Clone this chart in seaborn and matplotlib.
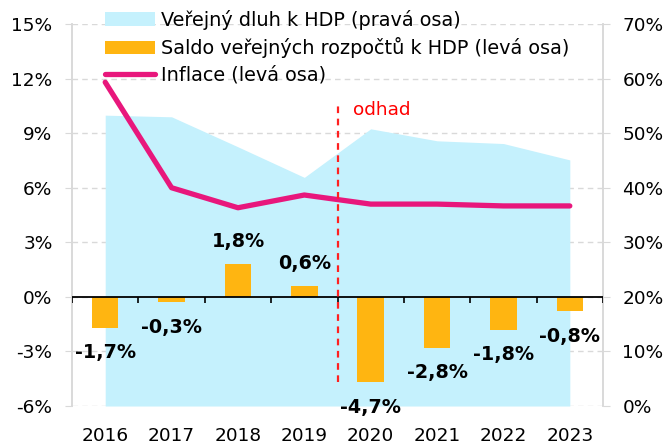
import numpy as np
import pandas as pd
import matplotlib
matplotlib.use("Agg")
import matplotlib.pyplot as plt
import seaborn as sns
from matplotlib.patches import Patch
from matplotlib.lines import Line2D

# Data
years = ["2016", "2017", "2018", "2019", "2020", "2021", "2022", "2023"]
debt = [53.3, 53.0, 47.5, 41.9, 50.8, 48.6, 48.1, 45.1]        # % HDP, right axis
balance = [-1.7, -0.3, 1.8, 0.6, -4.7, -2.8, -1.8, -0.8]        # % HDP, left axis
inflation = [11.8, 6.0, 4.9, 5.6, 5.1, 5.1, 5.0, 5.0]           # %, left axis
balance_labels = ["-1,7%", "-0,3%", "1,8%", "0,6%", "-4,7%", "-2,8%", "-1,8%", "-0,8%"]

df = pd.DataFrame({"year": years, "debt": debt, "balance": balance, "inflation": inflation})

area_color = "#C5F1FD"
bar_color = "#FFB511"
line_color = "#E8177C"
grid_color = "#D9D9D9"

sns.set_style("white")
plt.rcParams["font.family"] = ["DejaVu Sans"]
plt.rcParams["font.size"] = 13.3
plt.rcParams["text.color"] = "black"
plt.rcParams["xtick.labelcolor"] = "black"
plt.rcParams["ytick.labelcolor"] = "black"

fig = plt.figure(figsize=(6.7, 4.45), dpi=100)
ax = fig.add_axes([0.1075, 0.0876, 0.7925, 0.8584])
ax2 = ax.twinx()
ax.set_zorder(2)
ax2.set_zorder(1)
ax.patch.set_visible(False)

# Debt area on the right axis (behind everything)
pos = np.arange(len(years))
ax2.fill_between(pos, df["debt"], 0, color=area_color, lw=0, zorder=1)
ax2.set_ylim(0, 70)
ax2.set_yticks(range(0, 71, 10))
ax2.set_yticklabels([f"{v}%" for v in range(0, 71, 10)])
ax2.set_axisbelow(True)
ax2.grid(axis="y", color=grid_color, ls=(0, (4, 3)), lw=1)
ax2.grid(axis="x", visible=False)

# Budget balance bars and inflation line on the left axis
sns.barplot(data=df, x="year", y="balance", ax=ax, color=bar_color,
            saturation=1, width=0.4, linewidth=0)
sns.lineplot(data=df, x="year", y="inflation", ax=ax, color=line_color,
             lw=3.8, solid_capstyle="round", solid_joinstyle="round", zorder=5)

ax.set_xlim(-0.5, len(years) - 0.5)
ax.set_ylim(-6, 15)
ax.set_yticks(range(-6, 16, 3))
ax.set_yticklabels([f"{v}%" for v in range(-6, 16, 3)])
ax.set_xlabel("")
ax.set_ylabel("")

# zero line with category boundary ticks
ax.axhline(0, color="black", lw=1.3, zorder=4)
ax.vlines(np.arange(len(years) + 1) - 0.5, -0.33, 0, color="black", lw=1.2, zorder=4)

# estimate marker
ax.vlines(3.5, -4.7, 10.5, color="#FF2020", lw=1.6, ls=(0, (3, 2.5)), zorder=6)
ax.text(3.73, 10.3, "odhad", color="#FF0000", ha="left", va="center", fontsize=13.3)

# bar value labels
for i, (v, lab) in enumerate(zip(balance, balance_labels)):
    off = 16 if v > 0 else -18
    ax.annotate(lab, (i, v), xytext=(0, off), textcoords="offset points",
                ha="center", va="center", fontweight="bold", fontsize=13.8, zorder=7)

for a in (ax, ax2):
    for s in ("top", "bottom"):
        a.spines[s].set_visible(False)
    a.spines["left"].set_color(grid_color)
    a.spines["right"].set_color(grid_color)
    a.spines["left"].set_linewidth(1.2)
    a.spines["right"].set_linewidth(1.2)

ax.tick_params(axis="y", length=5, color=grid_color, pad=9, labelsize=13.3, left=True)
ax2.tick_params(axis="y", length=5, color=grid_color, pad=9, labelsize=13.3, right=True)
ax.tick_params(axis="x", length=0, pad=15, labelsize=13.3)

handles = [
    Patch(facecolor=area_color, edgecolor="none"),
    Patch(facecolor=bar_color, edgecolor="none"),
    Line2D([0], [0], color=line_color, lw=3.8, solid_capstyle="round"),
]
labels = ["Veřejný dluh k HDP (pravá osa)",
          "Saldo veřejných rozpočtů k HDP (levá osa)",
          "Inflace (levá osa)"]
leg = ax.legend(handles, labels, loc="upper left", bbox_to_anchor=(0.062, 1.037),
                frameon=False, borderpad=0, borderaxespad=0, handlelength=2.6,
                handletextpad=0.3, labelspacing=0.38, fontsize=13.9)

fig.savefig("out.png", dpi=100)
